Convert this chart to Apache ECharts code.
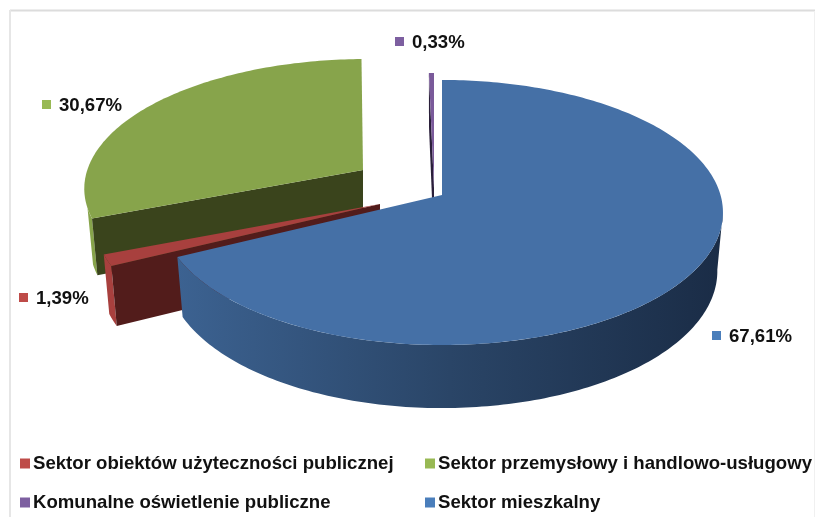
<!DOCTYPE html>
<html>
<head>
<meta charset="utf-8">
<style>
  html, body { margin: 0; padding: 0; background: #fff; }
  #chart { width: 815px; height: 517px; }
</style>
<script src="https://cdn.jsdelivr.net/npm/echarts@6/dist/echarts.min.js"></script>
</head>
<body>
<div id="chart"></div>
<script>
// data, in pie order (clockwise from the top)
const categories = ['Sektor mieszkalny', 'Sektor obiektów użyteczności publicznej', 'Sektor przemysłowy i handlowo-usługowy', 'Komunalne oświetlenie publiczne'];
const shares = [67.61, 1.39, 30.67, 0.33];

const total = shares.reduce((a, b) => a + b, 0);

// tilted disc: perspective ellipse, far edge shrunk
const R = 278.5, S = 130.2, K = 0.132;
const DEPTH = 58, BOTTOM_S = 134.6, BOTTOM_R = 0.98;

// per slice look: apex, colours, which part of the rim is visible, label position
const looks = [
    { apex: [442, 195], top: '#4570A6', wall: [97, 244], gradient: ['#3C6291', '#2A4567', '#1A2C46'], square: '#4A7EBB', label: [712, 331] },
    { apex: [380, 204], top: '#A8403E', wall: [243, 249], sideColor: '#A8403E', face: '#521C1B', square: '#BE4B48', label: [19, 293], sx: 1.015 },
    { apex: [363, 170], top: '#87A44B', wall: [248, 253], sideColor: '#87A44B', face: '#3A441C', square: '#98B954', label: [42, 100], sx: 0.99, sy: 0.965, skew: 4, depth: 55 },
    { apex: [434, 188], top: '#7A5A9A', face: '#2A1F3A', square: '#7D5FA0', label: [395, 37] }
];

function rimTop(look, deg) {
    const t = deg * Math.PI / 180;
    const w = 1 + K * Math.cos(t);
    const sx = look.sx || 1, sy = look.sy || 1, skew = look.skew || 0;
    return [look.apex[0] + (R * sx * Math.sin(t) + skew * Math.cos(t)) / w, look.apex[1] - S * sy * Math.cos(t) / w];
}

function rimBottom(look, deg) {
    const t = deg * Math.PI / 180;
    const w = 1 + K * Math.cos(t);
    const sx = look.sx || 1, sy = look.sy || 1, skew = look.skew || 0;
    return [
        look.apex[0] + (BOTTOM_R * R * sx * Math.sin(t) + skew * Math.cos(t)) / w,
        look.apex[1] + (look.depth || DEPTH) - BOTTOM_S * sy * Math.cos(t) / w
    ];
}

function arc(fn, look, from, to) {
    const pts = [];
    const n = Math.max(2, Math.ceil(Math.abs(to - from)));
    for (let i = 0; i <= n; i++) pts.push(fn(look, from + (to - from) * i / n));
    return pts;
}

function renderSlice(index) {
    return function (params, api) {
        const look = looks[index];
        const value = api.value(0);
        const before = shares.slice(0, index).reduce((a, b) => a + b, 0);
        const start = before / total * 360;
        const end = start + value / total * 360;
        const children = [];

        // outer wall
        if (look.wall) {
            const from = Math.max(start, look.wall[0]);
            const to = Math.min(end, look.wall[1]);
            const fill = look.gradient
                ? new echarts.graphic.LinearGradient(0, 0, 1, 0, look.gradient.map((c, i) => ({ offset: i / 2, color: c })))
                : look.sideColor;
            children.push({
                type: 'polygon',
                shape: { points: arc(rimTop, look, from, to).concat(arc(rimBottom, look, to, from)) },
                style: { fill: fill }
            });
        }

        // cut face seen because the slice is pulled out
        if (look.face) {
            children.push({
                type: 'polygon',
                shape: { points: [look.apex, rimTop(look, start), rimBottom(look, start), [look.apex[0], look.apex[1] + (look.depth || DEPTH)]] },
                style: { fill: look.face }
            });
        }

        // top surface
        children.push({
            type: 'polygon',
            shape: { points: [look.apex].concat(arc(rimTop, look, start, end)) },
            style: { fill: look.top }
        });

        // percent label with its small square
        children.push({
            type: 'rect',
            shape: { x: look.label[0], y: look.label[1], width: 9, height: 9 },
            style: { fill: look.square }
        });
        children.push({
            type: 'text',
            style: {
                x: look.label[0] + 17,
                y: look.label[1] + 6,
                text: value.toFixed(2).replace('.', ',') + '%',
                fill: '#111',
                font: 'bold 18.6px "Liberation Sans", Arial, sans-serif',
                verticalAlign: 'middle'
            }
        });
        return { type: 'group', children: children };
    };
}

// far slices first, the big blue one goes over the others
const drawOrder = [2, 3, 1, 0];

const legendBase = {
    icon: 'rect',
    itemWidth: 10,
    itemHeight: 10,
    selectedMode: false,
    textStyle: { color: '#111', fontWeight: 'bold', fontSize: 18.6, fontFamily: '"Liberation Sans", Arial, sans-serif', padding: [0, 0, 0, -2] }
};

const chart = echarts.init(document.getElementById('chart'), null, { renderer: 'canvas' });

chart.setOption({
    animation: false,
    backgroundColor: '#fff',
    // faint frame of the pasted chart
    graphic: [
        { type: 'line', shape: { x1: 10, y1: 10.5, x2: 815, y2: 10.5 }, style: { stroke: '#dcdcdc', lineWidth: 2 } },
        { type: 'line', shape: { x1: 10, y1: 10, x2: 10, y2: 517 }, style: { stroke: '#e6e6e6', lineWidth: 2 } },
        { type: 'line', shape: { x1: 814.5, y1: 11, x2: 814.5, y2: 517 }, style: { stroke: '#f0f0f0', lineWidth: 1 } }
    ],
    legend: [
        Object.assign({}, legendBase, { left: 15, top: 449, data: [categories[1]] }),
        Object.assign({}, legendBase, { left: 15, top: 488, data: [categories[3]] }),
        Object.assign({}, legendBase, { left: 420, top: 449, data: [categories[2]] }),
        Object.assign({}, legendBase, { left: 420, top: 488, data: [categories[0]] })
    ],
    series: drawOrder.map(i => ({
        type: 'custom',
        name: categories[i],
        coordinateSystem: 'none',
        clip: false,
        silent: true,
        itemStyle: { color: looks[i].square },
        renderItem: renderSlice(i),
        data: [[shares[i]]]
    }))
});
</script>
</body>
</html>
